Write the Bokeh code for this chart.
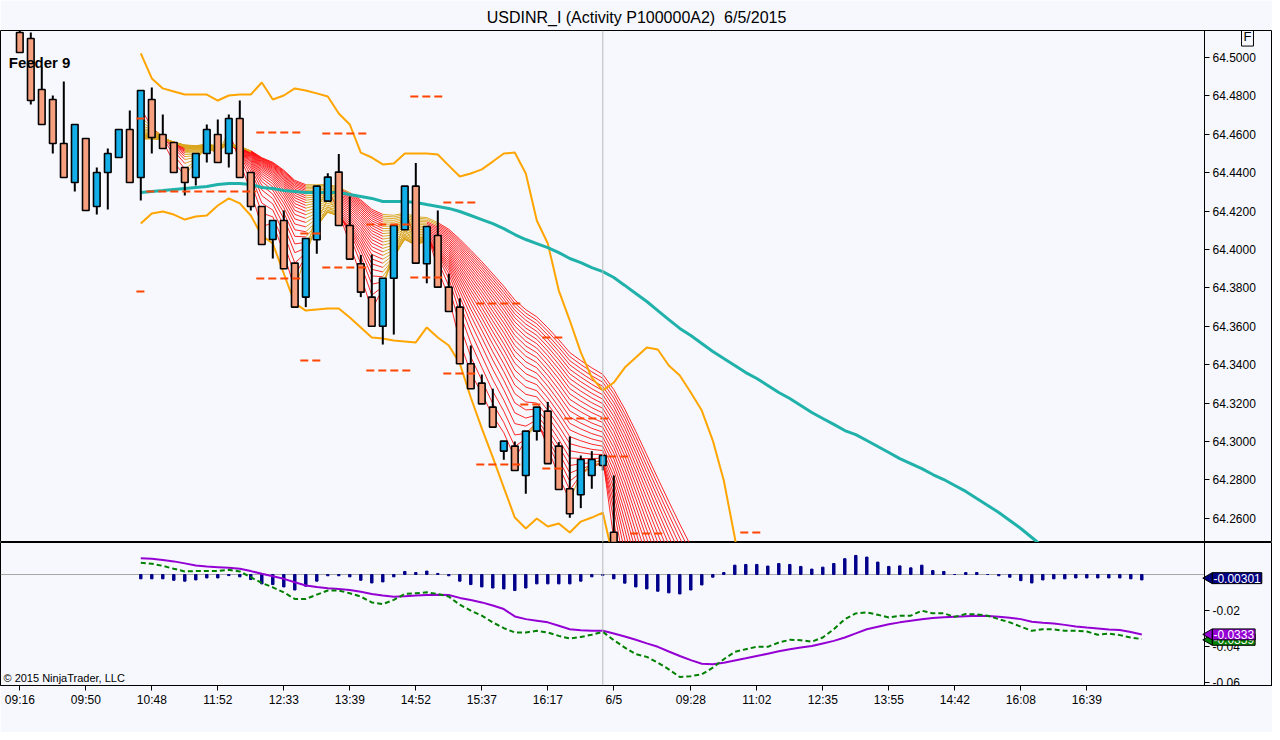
import numpy as np
from bokeh.plotting import figure
from bokeh.models import Range1d, FixedTicker, PrintfTickFormatter, Span, Label
from bokeh.layouts import column
from bokeh.embed import file_html
from bokeh.resources import INLINE

FONT = "Liberation Sans"
BG = "#F7F8FE"

# ---------------- data ----------------
# candles, bar index 0..54
opens = [64.5130, 64.5099, 64.4833, 64.4781, 64.4552, 64.4349, 64.4578, 64.4224, 64.4401, 64.4479,
         64.4625, 64.4375, 64.4781, 64.4599, 64.4557, 64.4427, 64.4375, 64.4500, 64.4599, 64.4500,
         64.4682, 64.4401, 64.4224, 64.4052, 64.4151, 64.3929, 64.3752, 64.4051, 64.4252, 64.4403,
         64.4125, 64.3926, 64.3752, 64.3600, 64.3850, 64.4103, 64.4330, 64.3926, 64.4073, 64.3804,
         64.3700, 64.3405, 64.3304, 64.3179, 64.2950, 64.2976, 64.2823, 64.3054, 64.3158, 64.2976,
         64.2754, 64.2723, 64.2823, 64.2875, 64.2527]
highs = [64.5150, 64.5130, 64.4948, 64.4802, 64.4875, 64.4651, 64.4578, 64.4427, 64.4526, 64.4625,
         64.4724, 64.4828, 64.4844, 64.4703, 64.4557, 64.4427, 64.4500, 64.4651, 64.4677, 64.4703,
         64.4776, 64.4401, 64.4224, 64.4151, 64.4203, 64.3929, 64.4057, 64.4330, 64.4397, 64.4498,
         64.4276, 64.3972, 64.3974, 64.3850, 64.4125, 64.4330, 64.4450, 64.4120, 64.4203, 64.3874,
         64.3746, 64.3500, 64.3349, 64.3275, 64.3002, 64.3000, 64.3054, 64.3179, 64.3206, 64.2997,
         64.3026, 64.2927, 64.2950, 64.2927, 64.2823]
lows = [64.5026, 64.4755, 64.4651, 64.4500, 64.4375, 64.4302, 64.4203, 64.4182, 64.4208, 64.4479,
        64.4349, 64.4255, 64.4500, 64.4526, 64.4401, 64.4281, 64.4333, 64.4453, 64.4453, 64.4427,
        64.4375, 64.4203, 64.4026, 64.3953, 64.3900, 64.3700, 64.3700, 64.3978, 64.4252, 64.4125,
        64.3950, 64.3752, 64.3600, 64.3505, 64.3557, 64.4103, 64.3929, 64.3824, 64.3804, 64.3677,
        64.3405, 64.3275, 64.3196, 64.3075, 64.2905, 64.2849, 64.2728, 64.3005, 64.2885, 64.2750,
        64.2603, 64.2653, 64.2754, 64.2849, 64.2200]
closes = [64.5026, 64.4776, 64.4651, 64.4552, 64.4375, 64.4651, 64.4203, 64.4401, 64.4500, 64.4625,
          64.4349, 64.4828, 64.4583, 64.4526, 64.4401, 64.4349, 64.4500, 64.4625, 64.4453, 64.4682,
          64.4375, 64.4224, 64.4026, 64.4151, 64.3900, 64.3700, 64.4057, 64.4330, 64.4377, 64.4125,
          64.3950, 64.3778, 64.3600, 64.3850, 64.4125, 64.4330, 64.3929, 64.4120, 64.3804, 64.3677,
          64.3405, 64.3275, 64.3196, 64.3075, 64.3002, 64.2849, 64.3054, 64.3179, 64.2885, 64.2750,
          64.2624, 64.2906, 64.2906, 64.2927, 64.2280]
# closes after the 6/5 open lie below the visible range (estimated from the ribbon's slope)
closes_after = [64.190, 64.160, 64.140, 64.128, 64.118, 64.110, 64.104, 64.100]

ribbon_periods = list(range(2, 27))
ribbon_seed_bar = 10
ribbon_start = 11

band_start = 11
upper_band = [64.5021, 64.4891, 64.4839, 64.4823, 64.4807, 64.4807, 64.4807, 64.4776, 64.4802, 64.4807,
              64.4807, 64.4870, 64.4781, 64.4802, 64.4839, 64.4828, 64.4813, 64.4797, 64.4708, 64.4651,
              64.4505, 64.4479, 64.4443, 64.4448, 64.4500, 64.4500, 64.4500, 64.4495, 64.4437, 64.4380,
              64.4396, 64.4417, 64.4458, 64.4500, 64.4505, 64.4396, 64.4151, 64.4031, 64.3786, 64.3630,
              64.3464, 64.3333, 64.3266, 64.3307, 64.3385, 64.3437, 64.3490, 64.3479, 64.3396, 64.3344,
              64.3255, 64.3161, 64.3005, 64.2797, 64.2500, 64.2172]
lower_band = [64.4135, 64.4187, 64.4198, 64.4182, 64.4156, 64.4172, 64.4177, 64.4229, 64.4266, 64.4240,
              64.4177, 64.4073, 64.4031, 64.3875, 64.3719, 64.3682, 64.3688, 64.3693, 64.3693, 64.3646,
              64.3594, 64.3542, 64.3536, 64.3526, 64.3521, 64.3516, 64.3594, 64.3542, 64.3500, 64.3406,
              64.3229, 64.3068, 64.2917, 64.2760, 64.2604, 64.2547, 64.2599, 64.2557, 64.2573, 64.2526,
              64.2583, 64.2604, 64.2630, 64.2380]

ma_start = 11
teal_ma = [64.4297, 64.4302, 64.4307, 64.4313, 64.4318, 64.4323, 64.4328, 64.4339, 64.4344, 64.4344,
           64.4339, 64.4323, 64.4318, 64.4307, 64.4302, 64.4297, 64.4297, 64.4297, 64.4297, 64.4286,
           64.4276, 64.4266, 64.4250, 64.4250, 64.4250, 64.4245, 64.4234, 64.4224, 64.4214, 64.4198,
           64.4177, 64.4156, 64.4135, 64.4109, 64.4078, 64.4052, 64.4031, 64.4010, 64.3984, 64.3953,
           64.3932, 64.3906, 64.3885, 64.3854, 64.3813, 64.3771, 64.3729, 64.3682, 64.3635, 64.3589,
           64.3552, 64.3510, 64.3469, 64.3432, 64.3396, 64.3359, 64.3328, 64.3292, 64.3255, 64.3224,
           64.3188, 64.3151, 64.3120, 64.3089, 64.3057, 64.3036, 64.3005, 64.2974, 64.2943, 64.2911,
           64.2885, 64.2859, 64.2828, 64.2802, 64.2771, 64.2740, 64.2703, 64.2667, 64.2630, 64.2589,
           64.2547, 64.2500, 64.2453]

seg_start = [10.6, 10.6, 11.5, 21.5, 27.5, 35.5, 21.5, 25.5, 25.5, 27.5, 31.5, 31.5, 35.5, 38.5, 38.5,
             41.5, 41.5, 45.5, 47.5, 47.5, 49.5, 53.5, 55.5, 65.5]
seg_end = [11.4, 11.4, 21.5, 25.5, 31.5, 38.5, 25.5, 27.5, 27.5, 31.5, 35.5, 35.5, 38.5, 41.5, 41.5,
           45.5, 45.5, 47.5, 49.5, 49.5, 53.5, 55.5, 58.5, 67.5]
seg_price = [64.3781, 64.4682, 64.4302, 64.4609, 64.4604, 64.4797, 64.3849, 64.3422, 64.4083, 64.3906,
             64.3370, 64.4130, 64.3854, 64.4245, 64.3354, 64.3719, 64.2880, 64.3193, 64.3542, 64.2859,
             64.3120, 64.2922, 64.2521, 64.2526]

macd_start = 11
macd_hist = [-0.0024, -0.0024, -0.0024, -0.0032, -0.0037, -0.0030, -0.0019, -0.0019, -0.0006, -0.0013,
             -0.0028, -0.0052, -0.0056, -0.0069, -0.0086, -0.0065, -0.0037, -0.0007, -0.0007, -0.0013,
             -0.0032, -0.0047, -0.0041, -0.0013, 0.0017, 0.0011, 0.0019, 0.0006, -0.0007, -0.0037,
             -0.0056, -0.0069, -0.0075, -0.0080, -0.0089, -0.0075, -0.0052, -0.0052, -0.0052, -0.0052,
             -0.0037, -0.0013, -0.0005, -0.0024, -0.0048, -0.0069, -0.0080, -0.0093, -0.0102, -0.0108,
             -0.0086, -0.0058, -0.0015, 0.0011, 0.0052, 0.0056, 0.0056, 0.0047, 0.0061, 0.0056,
             0.0045, 0.0030, 0.0041, 0.0061, 0.0088, 0.0106, 0.0097, 0.0069, 0.0045, 0.0048,
             0.0037, 0.0052, 0.0022, 0.0017, 0.0000, 0.0011, 0.0011, 0.0000, -0.0007, -0.0015,
             -0.0034, -0.0047, -0.0030, -0.0024, -0.0024, -0.0019, -0.0019, -0.0019, -0.0019, -0.0019,
             -0.0024, -0.00301]
macd_line = [0.0065, 0.0060, 0.0048, 0.0032, 0.0017, 0.0019, 0.0019, 0.0019, 0.0026, 0.0017,
             -0.0015, -0.0047, -0.0071, -0.0099, -0.0136, -0.0136, -0.0112, -0.0089, -0.0089, -0.0104,
             -0.0123, -0.0155, -0.0164, -0.0141, -0.0108, -0.0104, -0.0099, -0.0108, -0.0123, -0.0168,
             -0.0201, -0.0229, -0.0266, -0.0298, -0.0322, -0.0322, -0.0313, -0.0322, -0.0341, -0.0356,
             -0.0347, -0.0335, -0.0319, -0.0365, -0.0406, -0.0443, -0.0458, -0.0490, -0.0527, -0.0570,
             -0.0565, -0.0555, -0.0518, -0.0471, -0.0430, -0.0415, -0.0402, -0.0402, -0.0378, -0.0363,
             -0.0365, -0.0373, -0.0350, -0.0304, -0.0248, -0.0216, -0.0210, -0.0224, -0.0239, -0.0229,
             -0.0229, -0.0201, -0.0216, -0.0216, -0.0235, -0.0220, -0.0222, -0.0229, -0.0248, -0.0266,
             -0.0290, -0.0313, -0.0304, -0.0305, -0.0313, -0.0313, -0.0317, -0.0335, -0.0328, -0.0337,
             -0.0350, -0.0359]
macd_avg = [0.0091, 0.0088, 0.0081, 0.0073, 0.0062, 0.0050, 0.0045, 0.0041, 0.0037, 0.0032,
            0.0019, 0.0004, -0.0010, -0.0024, -0.0043, -0.0061, -0.0070, -0.0076, -0.0081, -0.0086,
            -0.0096, -0.0108, -0.0117, -0.0123, -0.0121, -0.0117, -0.0114, -0.0112, -0.0114, -0.0130,
            -0.0142, -0.0155, -0.0172, -0.0192, -0.0233, -0.0248, -0.0257, -0.0266, -0.0285, -0.0304,
            -0.0310, -0.0313, -0.0313, -0.0328, -0.0345, -0.0363, -0.0383, -0.0402, -0.0428, -0.0453,
            -0.0476, -0.0496, -0.0499, -0.0490, -0.0478, -0.0466, -0.0453, -0.0440, -0.0427, -0.0415,
            -0.0406, -0.0397, -0.0383, -0.0369, -0.0350, -0.0327, -0.0304, -0.0290, -0.0276, -0.0266,
            -0.0257, -0.0249, -0.0242, -0.0238, -0.0235, -0.0232, -0.0229, -0.0231, -0.0235, -0.0241,
            -0.0248, -0.0263, -0.0268, -0.0272, -0.0280, -0.0289, -0.0295, -0.0300, -0.0305, -0.0309,
            -0.0320, -0.0333]

tick_bars = [0, 6, 12, 18, 24, 30, 36, 42, 48, 54, 61, 67, 73, 79, 85, 91, 97]
tick_labels = ["09:16", "09:50", "10:48", "11:52", "12:33", "13:39", "14:52", "15:37", "16:17",
               "6/5", "09:28", "11:02", "12:35", "13:55", "14:42", "16:08", "16:39"]
price_ticks = [64.26, 64.28, 64.30, 64.32, 64.34, 64.36, 64.38, 64.40, 64.42, 64.44, 64.46, 64.48, 64.50]
macd_ticks = [-0.06, -0.04, -0.02]
cursor_bar = 53
title_text = "USDINR_I (Activity P100000A2)\u00a0 6/5/2015"

# ---------------- layout constants ----------------
W = 1272
PX_PER_BAR = 11.0
x_start = -19.3 / PX_PER_BAR
x_end = (W - 19.3) / PX_PER_BAR
axis_x = (1204 - 19.3) / PX_PER_BAR        # price-axis position (bar units)
x_range = Range1d(x_start, x_end)

def style_yaxis(ax):
    ax.fixed_location = axis_x
    ax.major_label_text_font = FONT
    ax.major_label_text_font_size = "12px"
    ax.major_label_text_color = "black"
    ax.major_tick_out = 5
    ax.major_tick_in = 0
    ax.minor_tick_out = 0
    ax.minor_tick_in = 0
    ax.axis_line_color = "black"
    ax.major_tick_line_color = "black"
    ax.major_label_standoff = 3

# ---------------- main price panel ----------------
main = figure(width=W, height=542, x_range=x_range, y_range=Range1d(64.24740, 64.51406),
              output_backend="svg", toolbar_location=None, y_axis_location="right",
              x_axis_location=None, min_border_left=0, min_border_right=0,
              min_border_top=30, min_border_bottom=0,
              background_fill_color=BG, border_fill_color=BG, outline_line_color="black")
main.grid.visible = False
main.title.text = title_text
main.title.align = "center"
main.title.offset = 0
main.title.text_font = FONT
main.title.text_font_size = "16px"
main.title.text_font_style = "normal"
main.title.text_color = "black"
main.title.standoff = 10
main.yaxis.ticker = FixedTicker(ticks=price_ticks)
main.yaxis.formatter = PrintfTickFormatter(format="%.4f")
style_yaxis(main.yaxis[0])

# ribbon of EMAs of the closes (seeded with the average of the first bars)
allc = closes + closes_after
emas = []
for n in ribbon_periods:
    a = 2.0 / (n + 1)
    e = [None] * len(allc)
    e[ribbon_seed_bar] = float(np.mean(allc[:ribbon_seed_bar + 1]))
    for i in range(ribbon_seed_bar + 1, len(allc)):
        e[i] = e[i - 1] + a * (allc[i] - e[i - 1])
    emas.append(e)

red = {"x0": [], "y0": [], "x1": [], "y1": []}
gold = {"x0": [], "y0": [], "x1": [], "y1": []}
order_tol = 0.00005
slope_tol = 0.0028
spread_thr = 0.03
nl = len(ribbon_periods)
for i in range(ribbon_start + 1, len(allc)):
    vals = [emas[k][i] for k in range(nl)]
    spread = max(vals) - min(vals)
    for k in range(nl):
        if k < nl - 1:
            d = emas[k][i] - emas[k + 1][i]
        else:
            d = emas[k - 1][i] - emas[k][i]
        slope = emas[k][i] - emas[k][i - 1]
        is_gold = (d > -order_tol) or (slope > -slope_tol and spread < spread_thr)
        tgt = gold if is_gold else red
        tgt["x0"].append(i - 1); tgt["x1"].append(i)
        tgt["y0"].append(emas[k][i - 1]); tgt["y1"].append(emas[k][i])
main.segment(x0="x0", y0="y0", x1="x1", y1="y1", source=red, line_color="#FF1010",
             line_width=1, line_alpha=0.9)
main.segment(x0="x0", y0="y0", x1="x1", y1="y1", source=gold, line_color="#DAA520",
             line_width=1, line_alpha=0.95)

# bands and moving average
main.line(list(range(band_start, band_start + len(upper_band))), upper_band,
          line_color="#FFA500", line_width=2)
main.line(list(range(band_start, band_start + len(lower_band))), lower_band,
          line_color="#FFA500", line_width=2)
main.line(list(range(ma_start, ma_start + len(teal_ma))), teal_ma,
          line_color="#20B2AA", line_width=3)

# candles
xb = list(range(len(closes)))
main.segment(x0=xb, y0=highs, x1=xb, y1=lows, line_color="black", line_width=2)
tops = [max(o, c) for o, c in zip(opens, closes)]
bots = [min(o, c) for o, c in zip(opens, closes)]
fills = ["#14AEE8" if c >= o else "#F7A07F" for o, c in zip(opens, closes)]
main.vbar(x=xb, width=0.6, top=tops, bottom=bots, fill_color=fills,
          line_color="black", line_width=1.6)

# dashed level segments
main.segment(x0=seg_start, y0=seg_price, x1=seg_end, y1=seg_price,
             line_color="#FF4500", line_width=2, line_dash="8 4")

main.add_layout(Span(location=cursor_bar, dimension="height", line_color="#B8B8B8", line_width=1))

main.add_layout(Label(x=x_start + 0.75, y=64.4974, text="Feeder 9", text_font=FONT,
                      text_font_size="15px", text_font_style="bold", text_color="black",
                      text_align="left", text_baseline="middle"))
main.add_layout(Label(x=(1247 - 19.3) / PX_PER_BAR, y=64.5109, text="F", text_font=FONT,
                      text_font_size="13px", text_color="black", text_align="center",
                      text_baseline="middle", border_line_color="black", border_line_width=1,
                      padding=2))

# ---------------- lower MACD panel ----------------
low = figure(width=W, height=190, x_range=x_range, y_range=Range1d(-0.0617, 0.0178),
             output_backend="svg", toolbar_location=None, y_axis_location="right",
             min_border_left=0, min_border_right=0, min_border_top=0, min_border_bottom=47,
             background_fill_color=BG, border_fill_color=BG, outline_line_color="black")
low.grid.visible = False
low.yaxis.ticker = FixedTicker(ticks=macd_ticks)
low.yaxis.formatter = PrintfTickFormatter(format="%.2f")
style_yaxis(low.yaxis[0])

xa = low.xaxis[0]
xa.ticker = FixedTicker(ticks=tick_bars)
xa.major_label_overrides = {b: t for b, t in zip(tick_bars, tick_labels)}
xa.major_label_text_font = FONT
xa.major_label_text_font_size = "12px"
xa.major_label_text_color = "black"
xa.major_tick_out = 5
xa.major_tick_in = 0
xa.minor_tick_out = 0
xa.minor_tick_in = 0
xa.axis_line_color = "black"
xa.major_label_standoff = 2

low.segment(x0=[x_start], y0=[0.0], x1=[axis_x], y1=[0.0], line_color="#A8A8A8", line_width=1)
low.add_layout(Span(location=cursor_bar, dimension="height", line_color="#B8B8B8", line_width=1))

xm = list(range(macd_start, macd_start + len(macd_hist)))
low.vbar(x=xm, top=macd_hist, bottom=0, width=0.22, fill_color="#00008B", line_color="#00008B")
low.line(xm, macd_avg, line_color="#9400D3", line_width=2)
low.line(xm, macd_line, line_color="#008000", line_width=2, line_dash="5 3")

low.add_layout(Label(x=x_start + 0.27, y=-0.0578, text="\u00a9 2015 NinjaTrader, LLC",
                     text_font=FONT, text_font_size="11px", text_color="black",
                     text_align="left", text_baseline="middle"))

# value tags at the right of the axis
tags = [(macd_line[-1] - 0.0004, "%.4f" % macd_line[-1], "#008000"),
        (macd_avg[-1], "%.4f" % macd_avg[-1], "#9400D3"),
        (macd_hist[-1] + 0.0010, "%.5f" % macd_hist[-1], "#000080")]
for yv, txt, col in tags:
    low.scatter([axis_x + 0.42], [yv], marker="triangle", angle=np.pi / 2, size=11,
                fill_color=col, line_color="black", line_width=1)
    low.add_layout(Label(x=axis_x + 0.72, y=yv, text=txt, text_font=FONT, text_font_size="12px",
                         text_color="white", text_align="left", text_baseline="middle",
                         background_fill_color=col, border_line_color="black",
                         border_line_width=1, padding=1))

layout = column(main, low)
open("out.html", "w").write(file_html(layout, INLINE, "USDINR_I"))
